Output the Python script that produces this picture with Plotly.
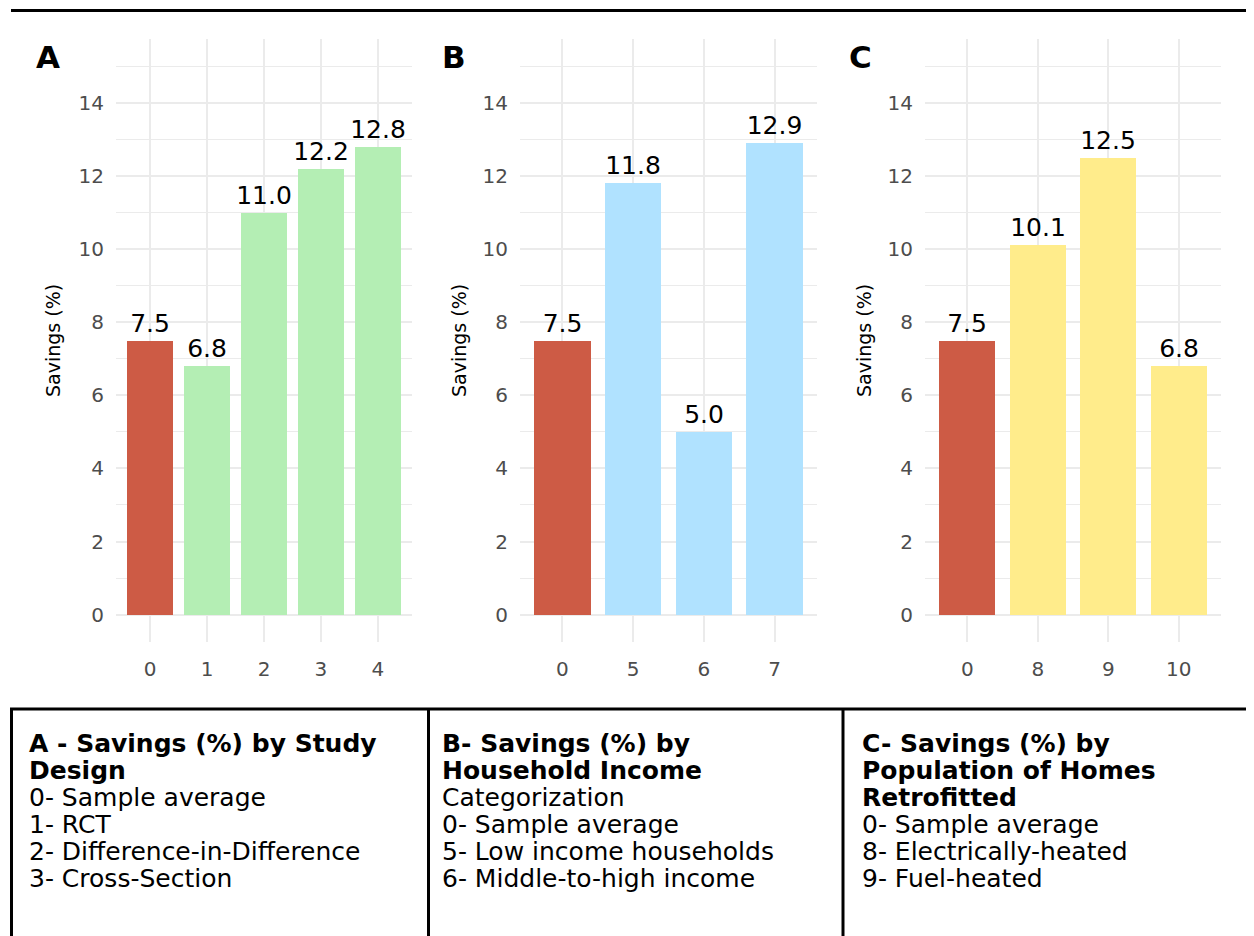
import plotly.graph_objects as go

# ---------------- data ----------------
cats_a = ["0", "1", "2", "3", "4"]
vals_a = [7.5, 6.8, 11.0, 12.2, 12.8]
cats_b = ["0", "5", "6", "7"]
vals_b = [7.5, 11.8, 5.0, 12.9]
cats_c = ["0", "8", "9", "10"]
vals_c = [7.5, 10.1, 12.5, 6.8]

panel_tags = ["A", "B", "C"]
y_title = "Savings (%)"
y_ticks = [0, 2, 4, 6, 8, 10, 12, 14]

table_a = [("A - Savings (%) by Study", True), ("Design", True),
           ("0- Sample average", False), ("1- RCT", False),
           ("2- Difference-in-Difference", False), ("3- Cross-Section", False)]
table_b = [("B- Savings (%) by", True), ("Household Income", True),
           ("Categorization", False), ("0- Sample average", False),
           ("5- Low income households", False), ("6- Middle-to-high income", False)]
table_c = [("C- Savings (%) by", True), ("Population of Homes", True),
           ("Retrofitted", True), ("0- Sample average", False),
           ("8- Electrically-heated", False), ("9- Fuel-heated", False)]

# ---------------- style ----------------
# page body has an 8px margin, so the figure is drawn 8px in from the window edge
OFF = 8
W, H = 1254 - OFF, 936 - OFF
RED = "#CD5B45"
panel_colors = ["#B4EEB4", "#B0E2FF", "#FFEC8B"]
GRID = "#EBEBEB"
FONT = "DejaVu Sans"

def px(x):
    return (x - OFF) / W

def py(y):
    return 1 - (y - OFF) / H

domains_x = [(116, 412), (520, 817), (925, 1221)]
dom_y = [py(642), py(39)]

fig = go.Figure()
panels = [(cats_a, vals_a), (cats_b, vals_b), (cats_c, vals_c)]
for i, (cats, vals) in enumerate(panels):
    sfx = "" if i == 0 else str(i + 1)
    colors = [RED] + [panel_colors[i]] * (len(cats) - 1)
    fig.add_trace(go.Bar(
        x=cats, y=vals, width=0.8,
        marker=dict(color=colors, line=dict(width=0)),
        texttemplate="%{y:.1f}", textposition="outside",
        textfont=dict(family=FONT, size=25, color="black"),
        constraintext="none", cliponaxis=False,
        xaxis="x" + sfx, yaxis="y" + sfx, showlegend=False,
        hoverinfo="skip",
    ))
    n = len(cats)
    fig.update_layout(**{
        "xaxis" + sfx: dict(
            domain=[px(domains_x[i][0]), px(domains_x[i][1])],
            type="category", range=[-0.6, n - 0.4],
            showgrid=True, gridcolor=GRID, gridwidth=1.6,
            zeroline=False, showline=False, ticks="",
            tickfont=dict(family=FONT, size=20, color="#4D4D4D"),
            ticklabelstandoff=13, anchor="y" + sfx, fixedrange=True,
        ),
        "yaxis" + sfx: dict(
            domain=dom_y, range=[-0.75, 15.75],
            tickvals=y_ticks,
            showgrid=True, gridcolor=GRID, gridwidth=1.6,
            minor=dict(tick0=0, dtick=1, showgrid=True, gridcolor=GRID, gridwidth=1.0),
            zeroline=False, showline=False, ticks="",
            tickfont=dict(family=FONT, size=20, color="#4D4D4D"),
            ticklabelstandoff=11, anchor="x" + sfx, fixedrange=True,
        ),
    })

annotations = []
tag_x = [48, 454, 860]
title_x = [53, 459, 864]
for i in range(3):
    annotations.append(dict(
        text="<b>" + panel_tags[i] + "</b>", x=px(tag_x[i]), y=py(57),
        xref="paper", yref="paper", showarrow=False, xanchor="center", yanchor="middle",
        font=dict(family=FONT, size=31, color="black"),
    ))
    annotations.append(dict(
        text=y_title, x=px(title_x[i]), y=py(341), textangle=-90,
        xref="paper", yref="paper", showarrow=False, xanchor="center", yanchor="middle",
        font=dict(family=FONT, size=19, color="black"),
    ))

table_x = [27, 440, 860]
line_y = [743, 770, 797, 824, 851, 878]
for col, rows in enumerate([table_a, table_b, table_c]):
    for r, (txt, bold) in enumerate(rows):
        annotations.append(dict(
            text=("<b>" + txt + "</b>") if bold else txt,
            x=px(table_x[col]), y=py(line_y[r]),
            xref="paper", yref="paper", showarrow=False,
            xanchor="left", yanchor="middle", align="left",
            font=dict(family=FONT, size=25, color="black"),
        ))

shapes = [
    dict(type="line", xref="paper", yref="paper", x0=px(11), x1=1, y0=py(10.5), y1=py(10.5),
         line=dict(color="black", width=3)),
    dict(type="line", xref="paper", yref="paper", x0=px(10), x1=1, y0=py(709), y1=py(709),
         line=dict(color="black", width=3)),
]
for vx in [11.5, 428.5, 843]:
    shapes.append(dict(type="line", xref="paper", yref="paper", x0=px(vx), x1=px(vx),
                       y0=py(709), y1=0, line=dict(color="black", width=3)))

fig.update_layout(
    width=W, height=H, margin=dict(l=0, r=0, t=0, b=0),
    paper_bgcolor="white", plot_bgcolor="white",
    annotations=annotations, shapes=shapes, bargap=0,
    font=dict(family=FONT),
)

fig.write_html("out.html")
